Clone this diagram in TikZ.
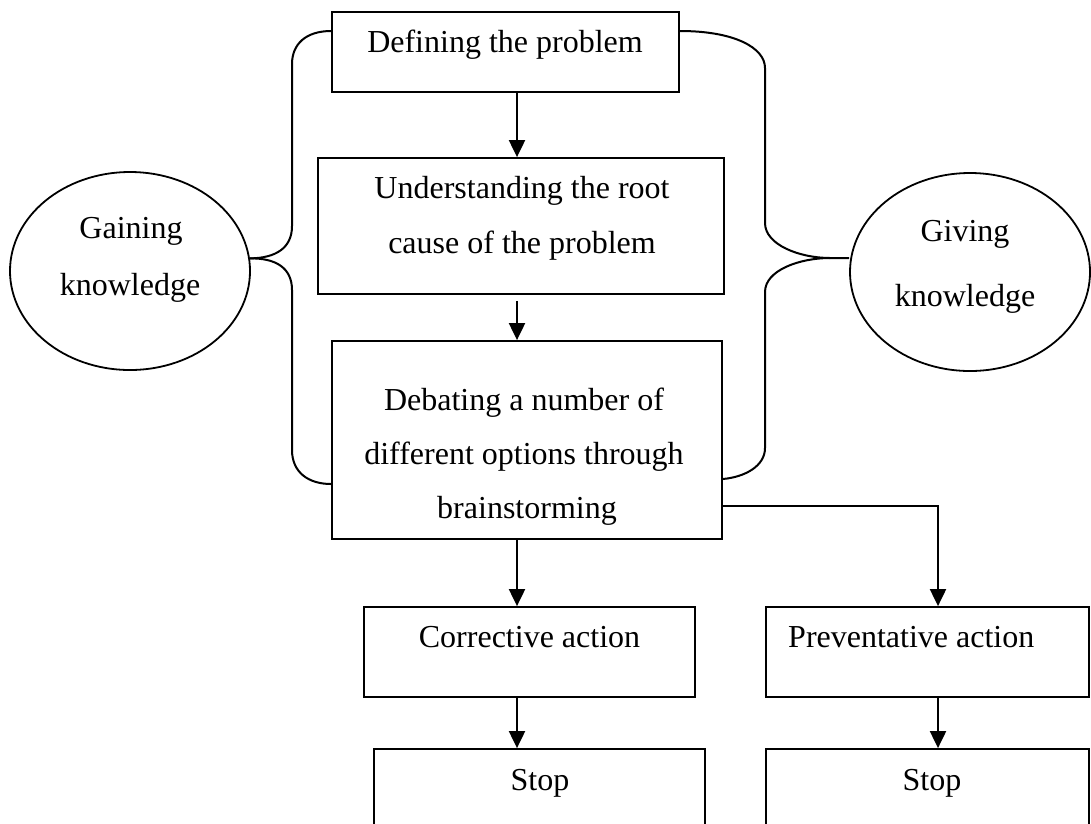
\documentclass[tikz,border=0pt]{standalone}
\usepackage{fontspec}
\setmainfont{Liberation Serif}
\usetikzlibrary{arrows.meta,shapes.geometric}
\begin{document}
\begin{tikzpicture}[x=1pt,y=-1pt,
  box/.style={draw,line width=1.8pt,rectangle,inner sep=0pt},
  oval/.style={draw,line width=1.8pt,ellipse,inner sep=0pt,minimum width=240pt,minimum height=198pt},
  txt/.style={inner sep=0pt,anchor=base,font=\fontsize{32}{36}\selectfont},
  arr/.style={line width=2pt,-{Triangle[length=17pt,width=16pt]}},
  brace/.style={line width=2pt}]
\path[use as bounding box,clip] (0,0) rectangle (1091,823);

% process boxes
\node[box,minimum width=347pt,minimum height=80pt]  (def)   at (505.5,52)  {};
\node[box,minimum width=406pt,minimum height=136pt] (und)   at (521,226)   {};
\node[box,minimum width=390pt,minimum height=198pt] (deb)   at (527,440)   {};
\node[box,minimum width=331pt,minimum height=90pt]  (cor)   at (529.5,652) {};
\node[box,minimum width=323pt,minimum height=90pt]  (pre)   at (927.5,652) {};
\node[box,minimum width=331pt,minimum height=131pt] (stopA) at (539.5,814.5) {};
\node[box,minimum width=323pt,minimum height=131pt] (stopB) at (927.5,814.5) {};

% knowledge ellipses
\node[oval] (gain) at (130,271) {};
\node[oval] (give) at (970,272) {};

% labels
\node[txt] (defT)  at (505,52)  {Defining the problem};
\node[txt] (undT1) at (522,198) {Understanding the root};
\node[txt] (undT2) at (522,253) {cause of the problem};
\node[txt] (debT1) at (524,410) {Debating a number of};
\node[txt] (debT2) at (524,464) {different options through};
\node[txt] (debT3) at (527,518) {brainstorming};
\node[txt] (corT)  at (529.5,647) {Corrective action};
\node[txt,anchor=base west] (preT) at (788,647) {Preventative action};
\node[txt] (stopAT) at (540,790) {Stop};
\node[txt] (stopBT) at (932,790) {Stop};
\node[txt] (gainT1) at (131,238) {Gaining};
\node[txt] (gainT2) at (130,295) {knowledge};
\node[txt] (giveT1) at (965,241) {Giving};
\node[txt] (giveT2) at (965,306) {knowledge};

% flow arrows
\coordinate (spine) at (517,0);
\coordinate (branch) at (938,0);
\draw[arr] (def.south -| spine) -- (und.north -| spine);
\draw[arr] ([yshift=-6pt]und.south -| spine) -- (deb.north -| spine);
\draw[arr] (deb.south -| spine) -- (cor.north -| spine);
\draw[arr] (cor.south -| spine) -- (stopA.north -| spine);
\draw[arr] (deb.east |- 0,506) -| (pre.north -| branch);
\draw[arr] (pre.south -| branch) -- (stopB.north -| branch);

% braces joining the boxes to the ellipses
\coordinate (ltip) at (gain.6);
\coordinate (rtip) at (830,258);
\draw[brace] (def.west |- 0,31) .. controls (306,31) and (292,44) .. (292,64)
  -- (292,226) .. controls (292,248) and (276,258) .. (ltip);
\draw[brace] (ltip) .. controls (276,258) and (292,268) .. (292,290)
  -- (292,450) .. controls (292,472) and (308,484) .. (deb.west |- 0,484);
\draw[brace] (def.east |- 0,31) .. controls (735,31) and (765,48) .. (765,68)
  -- (765,223) .. controls (765,245) and (800,258) .. (rtip) -- (give.west |- rtip);
\draw[brace] (rtip) .. controls (800,258) and (765,270) .. (765,292)
  -- (765,448) .. controls (765,466) and (745,477) .. (deb.east |- 0,479);
\end{tikzpicture}
\end{document}
